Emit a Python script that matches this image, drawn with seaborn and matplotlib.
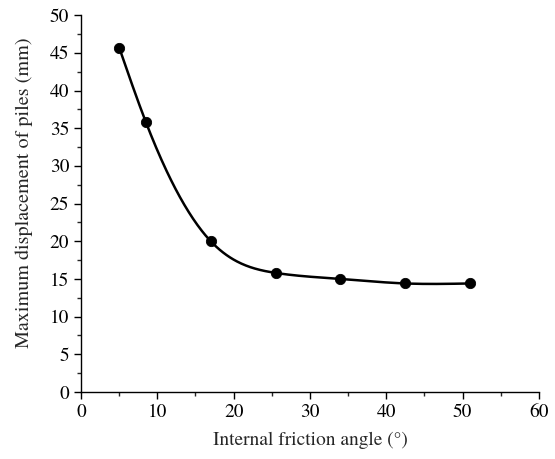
import numpy as np
import pandas as pd
import matplotlib
matplotlib.use("Agg")
import matplotlib.pyplot as plt
import seaborn as sns
from matplotlib.ticker import MultipleLocator

friction_angle = [5, 8.5, 17, 25.5, 34, 42.5, 51]
max_displacement = [45.7, 35.8, 20.0, 15.8, 15.0, 14.4, 14.4]

sns.set_style("ticks")
plt.rcParams['font.family'] = ['TeX Gyre Termes', 'Liberation Serif', 'DejaVu Serif']


def natural_spline(x, y, xs):
    x = np.asarray(x, float); y = np.asarray(y, float)
    n = len(x); h = np.diff(x)
    A = np.zeros((n, n)); b = np.zeros(n)
    A[0, 0] = 1; A[-1, -1] = 1
    for i in range(1, n - 1):
        A[i, i - 1] = h[i - 1]; A[i, i] = 2 * (h[i - 1] + h[i]); A[i, i + 1] = h[i]
        b[i] = 6 * ((y[i + 1] - y[i]) / h[i] - (y[i] - y[i - 1]) / h[i - 1])
    M = np.linalg.solve(A, b)
    idx = np.clip(np.searchsorted(x, xs) - 1, 0, n - 2)
    x0 = x[idx]; x1 = x[idx + 1]; hh = h[idx]
    return (M[idx] * (x1 - xs) ** 3 / (6 * hh) + M[idx + 1] * (xs - x0) ** 3 / (6 * hh)
            + (y[idx] / hh - M[idx] * hh / 6) * (x1 - xs)
            + (y[idx + 1] / hh - M[idx + 1] * hh / 6) * (xs - x0))


df = pd.DataFrame({"x": friction_angle, "y": max_displacement})
xs = np.linspace(min(friction_angle), max(friction_angle), 400)
curve = pd.DataFrame({"x": xs, "y": natural_spline(friction_angle, max_displacement, xs)})

fig = plt.figure(figsize=(5.55, 4.59), dpi=100)
ax = fig.add_axes([0.146, 0.146, 0.825, 0.821])
sns.lineplot(data=curve, x="x", y="y", ax=ax, color="black", linewidth=1.8)
sns.scatterplot(data=df, x="x", y="y", ax=ax, color="black", s=55, edgecolor="black", zorder=3)

ax.set_xlim(0, 60)
ax.set_ylim(0, 50)
ax.xaxis.set_major_locator(MultipleLocator(10))
ax.xaxis.set_minor_locator(MultipleLocator(5))
ax.yaxis.set_major_locator(MultipleLocator(5))
ax.yaxis.set_minor_locator(MultipleLocator(2.5))
ax.tick_params(which="major", direction="out", length=5, width=1, labelsize=14, colors="black")
ax.tick_params(which="minor", direction="out", length=3, width=1)
for s in ["top", "right"]:
    ax.spines[s].set_visible(False)
for s in ["left", "bottom"]:
    ax.spines[s].set_linewidth(1)
    ax.spines[s].set_color("black")
ax.set_xlabel("Internal friction angle (°)", fontsize=14, labelpad=8)
ax.set_ylabel("Maximum displacement of piles (mm)", fontsize=14.5, labelpad=6)
ax.yaxis.set_label_coords(-0.104, 0.53)

fig.savefig("out.png", dpi=100)
